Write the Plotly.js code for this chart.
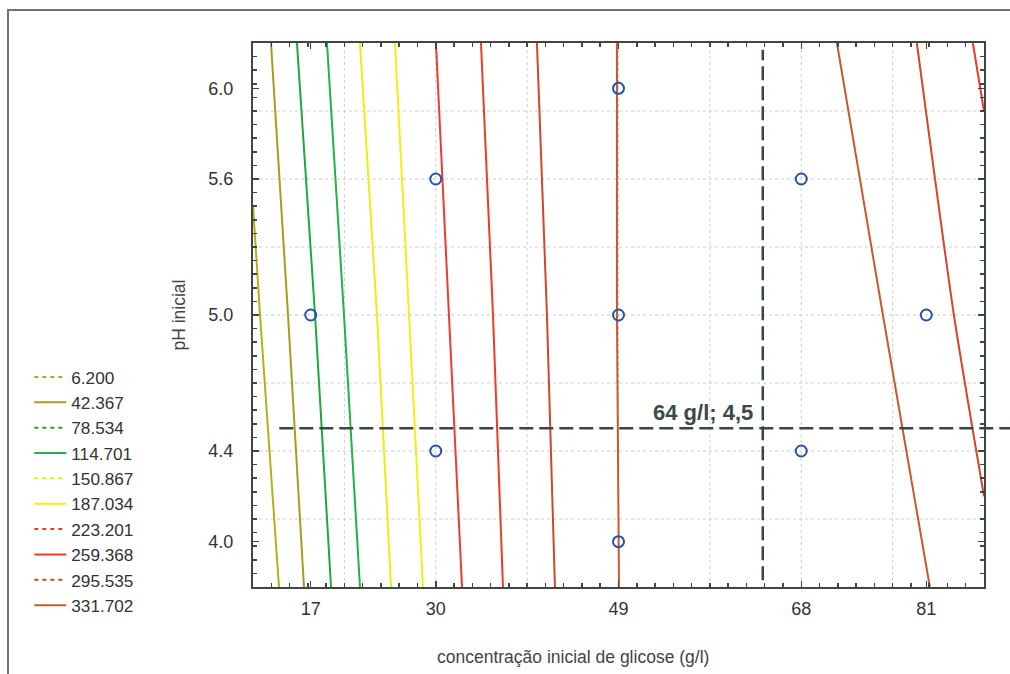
<!DOCTYPE html>
<html>
<head>
<meta charset="utf-8">
<script src="https://cdn.plot.ly/plotly-3.0.1.min.js"></script>
<style>
  html, body { margin: 0; padding: 0; background: #fff; }
  #wrap { position: relative; width: 1010px; height: 674px; overflow: hidden; }
  #frame { position: absolute; left: 7px; top: 9px; width: 1020px; height: 700px;
           border-top: 2px solid #6f736f; border-left: 2px solid #6f736f; pointer-events: none; }
  #chart { position: absolute; left: 0; top: 0; width: 1010px; height: 674px; }
</style>
</head>
<body>
<div id="wrap">
  <div id="chart"></div>
  <div id="frame"></div>
</div>
<script>
// Contour levels of the fitted response surface
const levelValues = [6.200, 42.367, 78.534, 114.701, 150.867, 187.034, 223.201, 259.368, 295.535, 331.702];
const levelLabels = ['6.200', '42.367', '78.534', '114.701', '150.867', '187.034', '223.201', '259.368', '295.535', '331.702'];

// Iso-lines: glucose (g/l) against initial pH, null separates two branches of one level
const glucose_6_200   = [11.0, 11.73, 13.70];
const ph_6_200        = [5.485, 5.0, 3.8];
const glucose_42_367  = [12.87, 14.64, 16.30];
const ph_42_367       = [6.2, 5.0, 3.8];
const glucose_78_534  = [15.57, 17.45, 19.11];
const ph_78_534       = [6.2, 5.0, 3.8];
const glucose_114_701 = [18.69, 20.46, 22.12];
const ph_114_701      = [6.2, 5.0, 3.8];
const glucose_150_867 = [22.12, 23.89, 25.35];
const ph_150_867      = [6.2, 5.0, 3.8];
const glucose_187_034 = [25.76, 27.22, 28.67];
const ph_187_034      = [6.2, 5.0, 3.8];
const glucose_223_201 = [30.02, 31.37, 32.73];
const ph_223_201      = [6.2, 5.0, 3.8];
const glucose_259_368 = [34.70, 35.95, 36.99, null, 85.84, 87.0];
const ph_259_368      = [6.2, 5.0, 3.8, null, 6.2, 5.9];
const glucose_295_535 = [40.52, 41.56, 42.39, null, 80.02, 83.87, 87.0];
const ph_295_535      = [6.2, 5.0, 3.8, null, 6.2, 5.0, 4.2];
const glucose_331_702 = [48.84, 48.84, 49.05, null, 71.71, 76.49, 81.37];
const ph_331_702      = [6.2, 5.0, 3.8, null, 6.2, 5.0, 3.8];

const isoGlucose = [glucose_6_200, glucose_42_367, glucose_78_534, glucose_114_701, glucose_150_867,
                    glucose_187_034, glucose_223_201, glucose_259_368, glucose_295_535, glucose_331_702];
const isoPh = [ph_6_200, ph_42_367, ph_78_534, ph_114_701, ph_150_867,
               ph_187_034, ph_223_201, ph_259_368, ph_295_535, ph_331_702];

// Experimental design points (central composite)
const designGlucose = [17, 30, 30, 49, 49, 49, 68, 68, 81];
const designPh      = [5.0, 5.6, 4.4, 6.0, 5.0, 4.0, 5.6, 4.4, 5.0];

// Axis ticks and dotted grid
const glucoseTicks = [17, 30, 49, 68, 81];
const phTicks      = [4.0, 4.4, 5.0, 5.6, 6.0];
const phTickText   = ['4.0', '4.4', '5.0', '5.6', '6.0'];
const glucoseGrid  = [20.5, 30, 39.5, 49, 58.5, 68, 77.5];
const phGrid       = [4.1, 4.4, 4.7, 5.0, 5.3, 5.6, 5.9];

// Optimum marked on the surface
const optimumGlucose = 64;
const optimumPh = 4.5;
const optimumLabel = '64 g/l; 4,5';

const xTitle = 'concentração inicial de glicose (g/l)';
const yTitle = 'pH inicial';

// Styles
const lineColors = ['#b7ad1c', '#a99c1a', '#1ea83e', '#23b24a', '#efec10', '#f3ee14',
                    '#ee3b2c', '#ef3a27', '#d2472a', '#c9592f'];
const legendDash = ['dash', 'solid', 'dash', 'solid', 'dash', 'solid', 'dash', 'solid', 'dash', 'solid'];
const axisColor = '#3c4841';
const FONT = 'Liberation Sans, Arial, sans-serif';

const traces = [];

// drawn iso-lines
for (let i = 0; i < levelValues.length; i++) {
  traces.push({
    type: 'scatter', mode: 'lines',
    x: isoGlucose[i], y: isoPh[i],
    line: { color: lineColors[i], width: 2, shape: 'spline', smoothing: 0.6 },
    connectgaps: false,
    showlegend: false, hoverinfo: 'skip'
  });
}

// legend entries
for (let i = 0; i < levelValues.length; i++) {
  traces.push({
    type: 'scatter', mode: 'lines',
    x: [null], y: [null],
    name: levelLabels[i],
    legendgroup: 'g' + i,
    line: { color: lineColors[i], width: 2, dash: legendDash[i] === 'dash' ? '4px,4px' : 'solid' },
    showlegend: true
  });
}

// design points
traces.push({
  type: 'scatter', mode: 'markers',
  x: designGlucose, y: designPh,
  marker: { symbol: 'circle-open', size: 11, color: '#2453a6', line: { width: 2, color: '#2453a6' } },
  showlegend: false, cliponaxis: false
});

const shapes = [];
glucoseGrid.forEach(v => shapes.push({
  type: 'line', xref: 'x', yref: 'paper', x0: v, x1: v, y0: 0, y1: 1,
  line: { color: '#cdcdcd', width: 1, dash: 'dot' }, layer: 'below'
}));
phGrid.forEach(v => shapes.push({
  type: 'line', xref: 'paper', yref: 'y', x0: 0, x1: 1, y0: v, y1: v,
  line: { color: '#cdcdcd', width: 1, dash: 'dot' }, layer: 'below'
}));

// optimum crosshair
shapes.push({
  type: 'line', xref: 'x', yref: 'y', x0: optimumGlucose, x1: optimumGlucose, y0: 3.83, y1: 6.17,
  line: { color: '#3a4640', width: 2.5, dash: '14px,6px' }
});
shapes.push({
  type: 'line', xref: 'paper', yref: 'y', x0: 0.036, x1: 1.04, y0: optimumPh, y1: optimumPh,
  line: { color: '#3a4640', width: 2.5, dash: '14px,6px' }
});

const layout = {
  width: 1010, height: 674,
  margin: { l: 253, r: 26, t: 43, b: 87 },
  paper_bgcolor: '#ffffff', plot_bgcolor: '#ffffff',
  font: { family: FONT, size: 18, color: '#333333' },
  showlegend: true,
  legend: {
    xref: 'container', yref: 'container',
    x: 0.029, y: 0.467, xanchor: 'left', yanchor: 'top',
    bgcolor: 'rgba(0,0,0,0)', borderwidth: 0,
    font: { family: FONT, size: 17.2, color: '#333333' },
    tracegroupgap: 0, itemwidth: 32
  },
  xaxis: {
    range: [11, 87],
    tickmode: 'array', tickvals: glucoseTicks,
    ticks: 'inside', ticklen: 6, tickwidth: 1.5, tickcolor: axisColor,
    minor: { tickmode: 'linear', tick0: 49, dtick: 1.9, ticks: 'inside', ticklen: 4, tickwidth: 1.5, tickcolor: axisColor, showgrid: false },
    showline: true, linecolor: axisColor, linewidth: 2, mirror: 'allticks',
    showgrid: false, zeroline: false,
    ticklabelstandoff: 4,
    tickfont: { family: FONT, size: 18, color: '#333333' }
  },
  yaxis: {
    range: [3.8, 6.2],
    tickmode: 'array', tickvals: phTicks, ticktext: phTickText,
    ticks: 'inside', ticklen: 6, tickwidth: 1.5, tickcolor: axisColor,
    minor: { tickmode: 'linear', tick0: 5.0, dtick: 0.06, ticks: 'inside', ticklen: 4, tickwidth: 1.5, tickcolor: axisColor, showgrid: false },
    showline: true, linecolor: axisColor, linewidth: 2, mirror: 'allticks',
    showgrid: false, zeroline: false,
    ticklabelstandoff: 14,
    tickfont: { family: FONT, size: 18, color: '#333333' },
    title: { text: yTitle, standoff: 18,
             font: { family: FONT, size: 17.5, color: '#444444' } }
  },
  shapes: shapes,
  annotations: [{
    xref: 'x', yref: 'y', x: optimumGlucose, y: optimumPh,
    text: '<b>' + optimumLabel + '</b>', showarrow: false,
    xanchor: 'right', yanchor: 'bottom', xshift: -8, yshift: 1,
    font: { family: FONT, size: 22, color: '#3b4a43' }
  }, {
    // x-axis title, set slightly left of the plot centre
    xref: 'paper', yref: 'paper', x: 0.438, y: -0.129,
    xanchor: 'center', yanchor: 'middle', showarrow: false,
    text: xTitle,
    font: { family: FONT, size: 17.5, color: '#444444' }
  }]
};

Plotly.newPlot('chart', traces, layout, { displayModeBar: false, staticPlot: true });
</script>
</body>
</html>
